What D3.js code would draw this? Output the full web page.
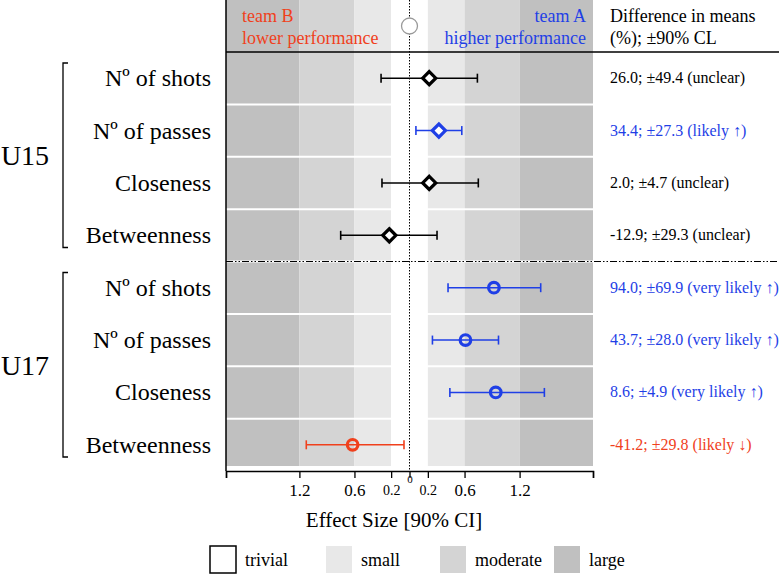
<!DOCTYPE html>
<html>
<head>
<meta charset="utf-8">
<script src="https://cdn.jsdelivr.net/npm/d3@7"></script>
<style>
  body { margin: 0; background: #fff; }
  svg, svg text { font-family: "Liberation Serif", "Times New Roman", serif !important; }
</style>
</head>
<body>
<svg id="chart" width="779" height="575" font-family="Liberation Serif, serif"></svg>
<script>
// data
const groups = ["U15", "U17"];
const measures = ["Nº of shots", "Nº of passes", "Closeness", "Betweenness"];
const effect = [0.215, 0.32, 0.215, -0.22, 0.92, 0.61, 0.94, -0.62];
const lower  = [-0.31, 0.07, -0.30, -0.75, 0.42, 0.25, 0.44, -1.125];
const upper  = [0.74, 0.57, 0.75, 0.30, 1.43, 0.97, 1.47, -0.06];
const diffMean = [26.0, 34.4, 2.0, -12.9, 94.0, 43.7, 8.6, -41.2];
const diffCL   = [49.4, 27.3, 4.7, 29.3, 69.9, 28.0, 4.9, 29.8];
const inference = ["unclear", "likely ↑", "unclear", "unclear",
                   "very likely ↑", "very likely ↑", "very likely ↑", "likely ↓"];
const direction = ["none", "up", "none", "none", "up", "up", "up", "down"];

const bandEdges = [-2, -1.2, -0.6, -0.2, 0.2, 0.6, 1.2, 2];
const bandNames = ["large", "moderate", "small", "trivial", "small", "moderate", "large"];
const tickVals = [-2, -1.2, -0.6, -0.2, 0, 0.2, 0.6, 1.2, 2];
const legendNames = ["trivial", "small", "moderate", "large"];

const bandColor = { trivial: "#ffffff", small: "#e8e8e8", moderate: "#d4d4d4", large: "#c0c0c0" };
const dirColor = { none: "#000000", up: "#1f3fe6", down: "#f0401c" };

const svg = d3.select("#chart");
const plotTop = 52, plotBottom = 471, headTop = 0;

const x = d3.scaleLinear().domain([-2, 2]).range([226, 593]);
const rows = d3.range(effect.length);
const y = d3.scaleBand().domain(rows).range([plotTop, plotBottom]);
const yc = i => y(i) + y.bandwidth() / 2;

// effect size bands (header + body)
const bands = bandNames.map((n, i) => ({ name: n, x0: bandEdges[i], x1: bandEdges[i + 1] }));
svg.append("g").selectAll("rect")
  .data(bands)
  .join("rect")
  .attr("x", d => x(d.x0))
  .attr("width", d => x(d.x1) - x(d.x0))
  .attr("y", headTop)
  .attr("height", plotBottom - 5 - headTop)
  .attr("fill", d => bandColor[d.name]);

// white separators between rows
svg.append("g").selectAll("line")
  .data(rows.slice(1))
  .join("line")
  .attr("x1", x(-2)).attr("x2", x(2))
  .attr("y1", d => y(d)).attr("y2", d => y(d))
  .attr("stroke", "#fff").attr("stroke-width", 2);

// header rule and group divider
svg.append("line")
  .attr("x1", x(-2)).attr("x2", 779)
  .attr("y1", plotTop).attr("y2", plotTop)
  .attr("stroke", "#000").attr("stroke-width", 1.5);

svg.append("line")
  .attr("x1", x(-2)).attr("x2", 779)
  .attr("y1", y(4)).attr("y2", y(4))
  .attr("stroke", "#000").attr("stroke-width", 1.2)
  .attr("stroke-dasharray", "7,2,1.5,2,1.5,2");

// left frame line
svg.append("line")
  .attr("x1", x(-2)).attr("x2", x(-2))
  .attr("y1", headTop).attr("y2", plotBottom)
  .attr("stroke", "#000").attr("stroke-width", 1.5);

// zero line
svg.append("line")
  .attr("x1", x(0)).attr("x2", x(0))
  .attr("y1", headTop).attr("y2", plotBottom)
  .attr("stroke", "#000").attr("stroke-width", 1)
  .attr("stroke-dasharray", "1.5,1.5");

svg.append("circle")
  .attr("cx", x(0)).attr("cy", 26).attr("r", 8)
  .attr("fill", "#fff").attr("stroke", "#999").attr("stroke-width", 1.3);

// header texts
const head = svg.append("g").attr("font-size", 18);
head.append("text").attr("x", 242).attr("y", 22).attr("fill", dirColor.down).text("team B");
head.append("text").attr("x", 242).attr("y", 44).attr("fill", dirColor.down).text("lower performance");
head.append("text").attr("x", 586).attr("y", 22).attr("text-anchor", "end").attr("fill", dirColor.up).text("team A");
head.append("text").attr("x", 586).attr("y", 44).attr("text-anchor", "end").attr("fill", dirColor.up).text("higher performance");
head.append("text").attr("x", 610).attr("y", 22).attr("fill", "#000").text("Difference in means");
head.append("text").attr("x", 610).attr("y", 44).attr("fill", "#000").text("(%); ±90% CL");

// error bars
const bars = svg.append("g");
bars.selectAll("line.ci")
  .data(rows)
  .join("line")
  .attr("class", "ci")
  .attr("x1", i => x(lower[i])).attr("x2", i => x(upper[i]))
  .attr("y1", yc).attr("y2", yc)
  .attr("stroke", i => dirColor[direction[i]]).attr("stroke-width", 1.6);

["lo", "hi"].forEach(side => {
  bars.selectAll("line.cap-" + side)
    .data(rows)
    .join("line")
    .attr("class", "cap-" + side)
    .attr("x1", i => x(side === "lo" ? lower[i] : upper[i]))
    .attr("x2", i => x(side === "lo" ? lower[i] : upper[i]))
    .attr("y1", i => yc(i) - 4.5)
    .attr("y2", i => yc(i) + 4.5)
    .attr("stroke", i => dirColor[direction[i]]).attr("stroke-width", 1.6);
});

// U15: diamonds, U17: circles
const diamond = d3.symbol().type(d3.symbolDiamond2).size(110);
bars.selectAll("path.pt")
  .data(rows.filter(i => i < 4))
  .join("path")
  .attr("class", "pt")
  .attr("d", diamond)
  .attr("transform", i => `translate(${x(effect[i])},${yc(i)})`)
  .attr("fill", "#fff")
  .attr("stroke", i => dirColor[direction[i]]).attr("stroke-width", 3.2);

bars.selectAll("circle.pt")
  .data(rows.filter(i => i >= 4))
  .join("circle")
  .attr("class", "pt")
  .attr("cx", i => x(effect[i]))
  .attr("cy", yc)
  .attr("r", 5.3)
  .attr("fill", "none")
  .attr("stroke", i => dirColor[direction[i]]).attr("stroke-width", 3.2);

// right column: difference in means
const fmt = v => v.toFixed(1);
svg.append("g").selectAll("text")
  .data(rows)
  .join("text")
  .attr("x", 610)
  .attr("y", i => yc(i) + 5)
  .attr("font-size", 16)
  .attr("fill", i => dirColor[direction[i]])
  .text(i => `${fmt(diffMean[i])}; ±${fmt(diffCL[i])} (${inference[i]})`);

// left labels
svg.append("g").selectAll("text")
  .data(rows)
  .join("text")
  .attr("x", 211)
  .attr("y", i => yc(i) + 8)
  .attr("text-anchor", "end")
  .attr("font-size", 24)
  .text(i => measures[i % 4]);

const grp = svg.append("g");
groups.forEach((g, k) => {
  const y0 = y(k * 4) + 11, y1 = y(k * 4 + 3) + y.bandwidth() - 14;
  grp.append("path")
    .attr("d", `M68,${y0}H63V${y1}H68`)
    .attr("fill", "none").attr("stroke", "#000").attr("stroke-width", 1.3);
  grp.append("text")
    .attr("x", 25).attr("y", (y0 + y1) / 2 + 10)
    .attr("text-anchor", "middle")
    .attr("font-size", 28)
    .text(g);
});

// x axis
const axis = svg.append("g")
  .attr("transform", `translate(0,${plotBottom})`)
  .call(d3.axisBottom(x)
    .tickValues(tickVals)
    .tickSize(7)
    .tickFormat(d => Math.abs(d) === 2 ? "" : String(Math.abs(d))));
axis.select(".domain").attr("stroke-width", 1.5);
axis.selectAll(".tick line").attr("stroke-width", 1.3);
axis.selectAll(".tick text")
  .attr("fill", "#000")
  .attr("font-size", d => Math.abs(d) === 0.2 ? 14 : (d === 0 ? 11 : 17))
  .attr("dy", d => d === 0 ? "0.2em" : (Math.abs(d) === 0.2 ? "1.0em" : "0.9em"));

svg.append("text")
  .attr("x", 394).attr("y", 527)
  .attr("text-anchor", "middle")
  .attr("font-size", 21)
  .text("Effect Size [90% CI]");

// legend
const legendX = [210, 326, 440, 554];
const lg = svg.append("g").selectAll("g")
  .data(legendNames)
  .join("g")
  .attr("transform", (d, i) => `translate(${legendX[i]},546)`);
lg.append("rect")
  .attr("width", 26).attr("height", 27)
  .attr("fill", d => bandColor[d])
  .attr("stroke", d => d === "trivial" ? "#000" : "none")
  .attr("stroke-width", 1.5);
lg.append("text")
  .attr("x", 35).attr("y", 20)
  .attr("font-size", 18)
  .text(d => d);
</script>
</body>
</html>
